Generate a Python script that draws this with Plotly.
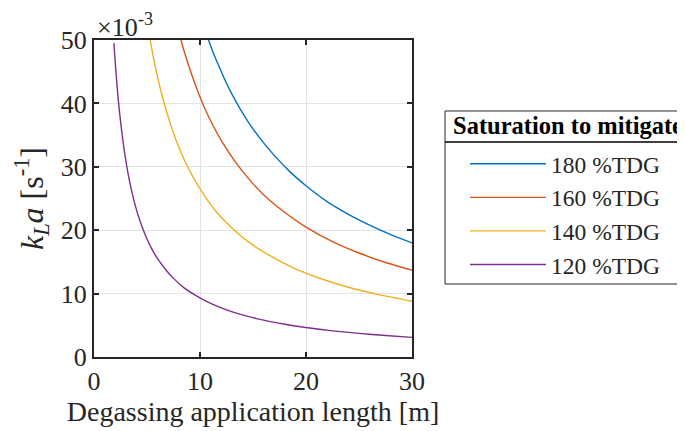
import plotly.graph_objects as go

# Degassing application length [m] and kLa [x1e-3 s^-1]
x180 = [10.8, 11.2, 11.7, 12.3, 13, 13.8, 14.7, 15.7, 17, 18.5, 20, 22, 24, 26, 28, 30]
y180 = [50.0, 48.2, 46.2, 43.9, 41.5, 39.1, 36.7, 34.4, 31.8, 29.2, 27.0, 24.5, 22.5, 20.8, 19.3, 18.0]

x160 = [8.2, 8.6, 9.1, 9.7, 10.4, 11.2, 12.1, 13.2, 14.5, 16, 18, 20, 22.5, 25, 27.5, 30]
y160 = [50.0, 47.7, 45.1, 42.3, 39.4, 36.6, 33.9, 31.1, 28.3, 25.6, 22.8, 20.5, 18.2, 16.4, 14.9, 13.7]

x140 = [5.3, 5.6, 5.95, 6.35, 6.8, 7.3, 7.9, 8.6, 9.4, 10.4, 11.6, 13, 14.7, 16.7, 19, 21.5, 24, 27, 30]
y140 = [50.0, 47.3, 44.5, 41.7, 39.0, 36.3, 33.5, 30.8, 28.2, 25.5, 22.8, 20.4, 18.0, 15.9, 13.9, 12.3, 11.0, 9.8, 8.8]

x120 = [1.88, 1.95, 2.05, 2.15, 2.3, 2.45, 2.6, 2.8, 3.0, 3.25, 3.5, 3.8, 4.1, 4.5, 5, 5.5, 6,
        6.75, 7.5, 8.5, 9.5, 11, 12.5, 14, 16, 18, 20, 22.5, 25, 27.5, 30]
y120 = [49.5, 47.7, 45.4, 43.3, 40.4, 38.0, 35.8, 33.2, 31.0, 28.6, 26.6, 24.5, 22.7, 20.7, 18.6, 16.9, 15.5,
        13.8, 12.4, 10.9, 9.8, 8.45, 7.44, 6.64, 5.81, 5.17, 4.65, 4.13, 3.72, 3.38, 3.1]

names = ["180 %TDG", "160 %TDG", "140 %TDG", "120 %TDG"]
colors = ["#0072BD", "#D95319", "#EDB120", "#7E2F8E"]
xs = [x180, x160, x140, x120]
ys = [y180, y160, y140, y120]

xticks = [0, 10, 20, 30]
yticks = [0, 10, 20, 30, 40, 50]
legend_title = "Saturation to mitigate"

FONT = "Liberation Serif"
AX = "#262626"

fig = go.Figure()
for n, c, xx, yy in zip(names, colors, xs, ys):
    fig.add_trace(go.Scatter(x=xx, y=yy, mode="lines", name=n,
                             line=dict(color=c, width=1.4, shape="spline", smoothing=0.6)))

axis_common = dict(showline=True, linecolor=AX, linewidth=2, mirror="ticks",
                   ticks="inside", ticklen=5, tickwidth=2, tickcolor=AX,
                   showgrid=True, gridcolor="#e3e3e3", gridwidth=1, zeroline=False,
                   tickfont=dict(family=FONT, size=26, color=AX))

fig.update_xaxes(range=[0, 30], tickvals=xticks, ticktext=[str(t) for t in xticks],
                 title=dict(text="Degassing application length [m]",
                            font=dict(family=FONT, size=28, color=AX), standoff=4),
                 **axis_common)
fig.update_yaxes(range=[0, 50], tickvals=yticks, ticktext=[str(t) for t in yticks],
                 title=dict(text="<i>k<sub>L</sub>a</i> [s<sup>-1</sup>]",
                            font=dict(family=FONT, size=32, color=AX), standoff=8),
                 **axis_common)

# px -> paper helpers for the 318x317 plot area at x 94-412, y 40-357
def px(x):
    return (x - 94) / 318.0

def py(y):
    return (357 - y) / 317.0

# x10^-3 exponent label
fig.add_annotation(xref="paper", yref="paper", x=px(95), y=py(44), xanchor="left", yanchor="bottom",
                   text="×10", showarrow=False,
                   font=dict(family=FONT, size=26, color=AX))
fig.add_annotation(xref="paper", yref="paper", x=px(136), y=py(31), xanchor="left", yanchor="bottom",
                   text="-3", showarrow=False,
                   font=dict(family=FONT, size=18, color=AX))

# legend frame, title and separator
fig.add_shape(type="rect", xref="paper", yref="paper", x0=px(445), x1=px(760),
              y0=py(284), y1=py(111), line=dict(color=AX, width=1), fillcolor="white", layer="below")
fig.add_shape(type="line", xref="paper", yref="paper", x0=px(445), x1=px(760),
              y0=py(142), y1=py(142), line=dict(color="black", width=1.5))
fig.add_annotation(xref="paper", yref="paper", x=px(451), y=py(125), xanchor="left", yanchor="middle",
                   text="<b>" + legend_title + "</b>", showarrow=False,
                   font=dict(family=FONT, size=24.5, color="black"))

# page body adds an 8px offset; margins compensate so the plot sits at x 94-412, y 40-357
fig.update_layout(
    width=685, height=431,
    margin=dict(l=86, r=281, t=32, b=82, autoexpand=False),
    plot_bgcolor="white", paper_bgcolor="white",
    legend=dict(x=px(465), y=py(142), xanchor="left", yanchor="top",
                borderwidth=0, bgcolor="rgba(0,0,0,0)",
                font=dict(family=FONT, size=23.5, color=AX),
                itemwidth=76),
)

fig.write_html("out.html")
